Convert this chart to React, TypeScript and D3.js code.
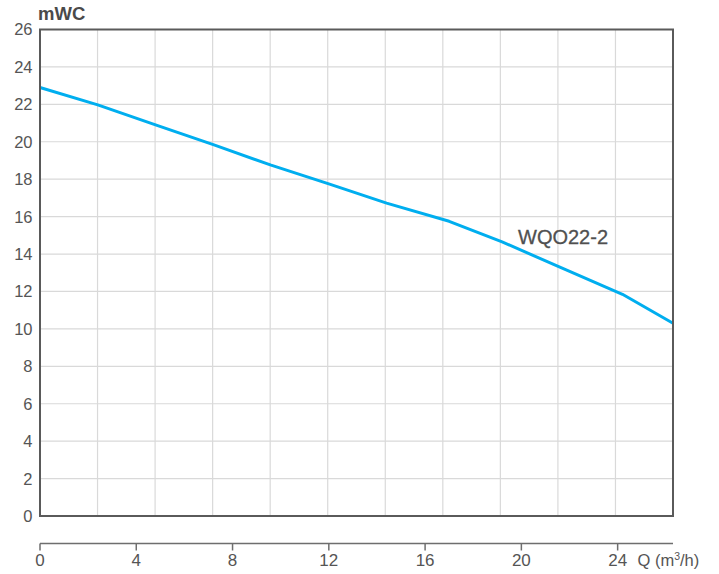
import React from "react";
import * as d3 from "d3";

const flowQ = [0, 2.4, 4.8, 7.2, 9.6, 12, 14.4, 17.0, 19.2, 21.6, 24.2, 26.3];
const headH = [22.9, 21.97, 20.9, 19.85, 18.75, 17.75, 16.72, 15.75, 14.65, 13.3, 11.85, 10.3];
const xTicks = [0, 4, 8, 12, 16, 20, 24];
const yTicks = [0, 2, 4, 6, 8, 10, 12, 14, 16, 18, 20, 22, 24, 26];
const xMax = 26.3;
const yMax = 26;
const xGridDivisions = 11;
const seriesName = "WQO22-2";
const yTitle = "mWC";

const W = 719;
const H = 574;
const left = 40;
const right = 673;
const top = 29.5;
const bottom = 516;
const axisY = 543.5;
const font = "'Liberation Sans', Arial, Helvetica, sans-serif";
const textColor = "#555555";

export default function App() {
  const x = d3.scaleLinear().domain([0, xMax]).range([left, right]);
  const y = d3.scaleLinear().domain([0, yMax]).range([bottom, top]);
  const gridX = d3.range(1, xGridDivisions).map((i) => (i * xMax) / xGridDivisions);
  const gridY = yTicks.filter((t) => t > 0 && t < yMax);
  const pts: [number, number][] = flowQ.map((q, i) => [q, headH[i]]);
  const line = d3
    .line<[number, number]>()
    .x((d) => x(d[0]))
    .y((d) => y(d[1]));

  return (
    <svg
      width={W}
      height={H}
      style={{ position: "absolute", left: 0, top: 0, background: "#fff" }}
      fontFamily={font}
    >
      <rect x={0} y={0} width={W} height={H} fill="#fff" />
      {gridX.map((g, i) => (
        <line key={"gx" + i} x1={x(g)} x2={x(g)} y1={y(0)} y2={y(yMax)} stroke="#d9d9d9" strokeWidth={1.2} />
      ))}
      {gridY.map((g, i) => (
        <line key={"gy" + i} x1={x(0)} x2={x(xMax)} y1={y(g)} y2={y(g)} stroke="#d9d9d9" strokeWidth={1.2} />
      ))}
      <path d={line(pts) || ""} fill="none" stroke="#00aeef" strokeWidth={3} strokeLinejoin="round" />
      <rect
        x={x(0)}
        y={y(yMax)}
        width={x(xMax) - x(0)}
        height={y(0) - y(yMax)}
        fill="none"
        stroke="#5a5a5a"
        strokeWidth={2}
      />
      {yTicks.map((t) => (
        <text key={"yt" + t} x={32.5} y={y(t)} dy="0.36em" textAnchor="end" fontSize={16.5} fill={textColor}>
          {t}
        </text>
      ))}
      <text x={38} y={20} fontSize={18.5} fontWeight="bold" fill="#4a4a4a">
        {yTitle}
      </text>
      <line x1={x(0)} x2={x(xMax)} y1={axisY} y2={axisY} stroke="#6e6e6e" strokeWidth={1.5} />
      {xTicks.map((t) => (
        <g key={"xt" + t}>
          <line x1={x(t)} x2={x(t)} y1={axisY} y2={axisY + 7} stroke="#6e6e6e" strokeWidth={1.5} />
          <text x={x(t)} y={565.5} textAnchor="middle" fontSize={17} fill={textColor}>
            {t}
          </text>
        </g>
      ))}
      <text x={637.5} y={565.5} fontSize={16.5} fill={textColor}>
        Q (m<tspan dy="-6" fontSize={10.5}>3</tspan>
        <tspan dy="6">/h)</tspan>
      </text>
      <text x={518} y={243.5} fontSize={20} fill="#505050" stroke="#505050" strokeWidth={0.3}>
        {seriesName}
      </text>
    </svg>
  );
}
